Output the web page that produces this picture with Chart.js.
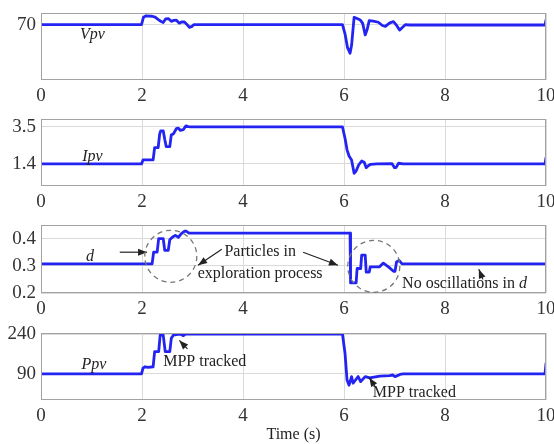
<!DOCTYPE html>
<html lang="en">
<head>
<meta charset="UTF-8">
<title>PV tracking response</title>
<script src="https://cdn.jsdelivr.net/npm/chart.js"></script>
<style>
  body { margin: 0; width: 554px; height: 444px; overflow: hidden; background: #fff; position: relative; }
  .panel { position: absolute; left: 0; width: 580px; }
</style>
</head>
<body>
<div class="panel" style="top:3px;height:105px"><canvas id="vpvChart"></canvas></div>
<div class="panel" style="top:109px;height:105px"><canvas id="ipvChart"></canvas></div>
<div class="panel" style="top:215px;height:106px"><canvas id="dChart"></canvas></div>
<div class="panel" style="top:323px;height:121px"><canvas id="ppvChart"></canvas></div>

<script>
// time axis
const xTicks = [0, 2, 4, 6, 8, 10];

// Vpv
const vpvTime = [0, 1.99, 2.03, 2.08, 2.2, 2.26, 2.33, 2.38, 2.42, 2.47, 2.52, 2.58, 2.63, 2.68, 2.74, 2.79, 2.84, 2.9, 2.94, 2.99, 3.03,
                 5.97, 6.02, 6.07, 6.12, 6.15, 6.2, 6.26, 6.32, 6.37, 6.42, 6.46, 6.5, 6.58, 6.68, 6.76, 6.82, 6.9, 6.98, 7.03, 7.1, 7.16, 7.22, 7.3, 9.98, 10];
const vpvValues = [70, 70, 73.2, 73.8, 73.6, 73.2, 72.0, 71.3, 70.9, 72.5, 72.6, 71.4, 71.8, 71.9, 70.6, 71.2, 71.1, 69.8, 68.8, 69.2, 70,
                   70, 66, 60, 57.6, 61, 73.1, 72.6, 72, 70.5, 65.5, 68, 71.7, 71.5, 71, 69.6, 69.2, 70.6, 71.3, 70, 67.6, 68.8, 70, 69.8, 69.8, 72];
const vpvTicks = [70];

// Ipv
const ipvTime = [0, 1.99, 2.02, 2.22, 2.25, 2.32, 2.35, 2.37, 2.42, 2.45, 2.48, 2.55, 2.58, 2.62, 2.68, 2.72, 2.76, 2.82, 2.87, 2.92, 2.96,
                 5.97, 6.02, 6.06, 6.1, 6.15, 6.2, 6.24, 6.29, 6.35, 6.4, 6.44, 6.48, 6.53, 6.65, 6.95, 7.0, 7.03, 7.08, 7.17, 9.98, 10];
const ipvValues = [1.4, 1.4, 1.63, 1.63, 2.33, 2.33, 3.1, 3.28, 3.28, 2.8, 2.38, 2.38, 3.05, 3.1, 3.4, 3.43, 3.3, 3.35, 3.56, 3.52, 3.5,
                   3.5, 2.86, 2.2, 1.85, 1.63, 0.87, 1.0, 1.34, 1.57, 1.5, 1.19, 1.3, 1.38, 1.4, 1.42, 1.19, 1.19, 1.44, 1.4, 1.4, 1.76];
const ipvTicks = [1.4, 3.5];

// duty cycle d
const dTime = [0, 2.2, 2.23, 2.3, 2.33, 2.42, 2.45, 2.52, 2.55, 2.6, 2.66, 2.72, 2.78, 2.84, 2.88, 2.93,
               6.12, 6.13, 6.24, 6.26, 6.33, 6.35, 6.42, 6.44, 6.5, 6.52, 6.7, 6.78, 6.88, 6.98, 7.01, 7.04, 7.09, 7.15, 10];
const dValues = [0.307, 0.307, 0.35, 0.35, 0.40, 0.40, 0.357, 0.357, 0.396, 0.405, 0.412, 0.405, 0.418, 0.427, 0.427, 0.42,
                 0.42, 0.237, 0.237, 0.29, 0.29, 0.339, 0.339, 0.277, 0.277, 0.296, 0.296, 0.31, 0.296, 0.28, 0.28, 0.314, 0.32, 0.307, 0.307];
const dTicks = [0.2, 0.3, 0.4];

// Ppv
const ppvTime = [0, 1.99, 2.02, 2.06, 2.12, 2.22, 2.25, 2.33, 2.36, 2.42, 2.46, 2.55, 2.58, 2.62, 2.68, 2.75, 2.82, 2.86, 2.92,
                 5.97, 6.02, 6.06, 6.1, 6.15, 6.18, 6.24, 6.28, 6.33, 6.42, 6.51, 6.71, 6.9, 6.97, 7.01, 7.11, 7.17, 9.98, 10];
const ppvValues = [90, 90, 112, 117, 115, 117, 174, 174, 236, 236, 174, 174, 224, 236, 238, 240, 234, 240, 240,
                   240, 168, 67, 48, 80, 55, 70, 80, 61, 80, 75, 82, 84, 86, 80, 88, 90, 90, 130];
const ppvTicks = [90, 240];

const SERIF = '"Liberation Serif", "DejaVu Serif", serif';
const LINE_BLUE = '#2424f2';

// annotations in data units
const vpvNotes = [{ text: 'Vpv', italic: true, x: 1.02, y: 65.5 }];
const ipvNotes = [{ text: 'Ipv', italic: true, x: 1.02, y: 1.8 }];
const dNotes = [
    { text: 'd', italic: true, x: 0.97, y: 0.332 },
    { arrow: [1.56, 0.35, 2.1, 0.35] },
    { ring: [2.57, 0.335] },
    { ring: [6.59, 0.298] },
    { text: 'Particles in', x: 4.34, y: 0.35, align: 'center' },
    { text: 'exploration process', x: 4.34, y: 0.272, align: 'center' },
    { arrow: [3.58, 0.361, 3.11, 0.302] },
    { arrow: [5.19, 0.35, 5.88, 0.302] },
    { text: 'No oscillations in ', tail: 'd', x: 7.15, y: 0.232 },
    { arrow: [8.75, 0.25, 8.67, 0.287] }
];
const ppvNotes = [
    { text: 'Ppv', italic: true, x: 1.05, y: 124 },
    { text: 'MPP tracked', x: 2.42, y: 135 },
    { arrow: [2.9, 184, 2.74, 216] },
    { text: 'MPP tracked', x: 6.57, y: 18 },
    { arrow: [6.62, 41, 6.5, 76] }
];

function drawArrow(ctx, x1, y1, x2, y2) {
    ctx.beginPath();
    ctx.moveTo(x1, y1);
    ctx.lineTo(x2, y2);
    ctx.stroke();
    let a = Math.atan2(y2 - y1, x2 - x1);
    ctx.beginPath();
    ctx.moveTo(x2, y2);
    ctx.lineTo(x2 - 9 * Math.cos(a) + 3.5 * Math.sin(a), y2 - 9 * Math.sin(a) - 3.5 * Math.cos(a));
    ctx.lineTo(x2 - 9 * Math.cos(a) - 3.5 * Math.sin(a), y2 - 9 * Math.sin(a) + 3.5 * Math.cos(a));
    ctx.closePath();
    ctx.fill();
}

const notesPlugin = {
    id: 'notes',
    afterDraw(chart) {
        let { ctx, chartArea: a, scales: { x, y } } = chart;
        ctx.save();
        // plot frame
        ctx.strokeStyle = '#a2a2a2';
        ctx.lineWidth = 1;
        ctx.strokeRect(a.left + 0.5, a.top + 0.5, a.right - a.left - 1, a.bottom - a.top - 1);

        let list = chart.options.plugins.notes.list || [];
        ctx.fillStyle = '#222';
        ctx.strokeStyle = '#222';
        ctx.textBaseline = 'middle';
        list.forEach(n => {
            if (n.text) {
                ctx.font = (n.italic ? 'italic ' : '') + '16px ' + SERIF;
                ctx.textAlign = n.align || (n.italic ? 'center' : 'left');
                let px = x.getPixelForValue(n.x), py = y.getPixelForValue(n.y);
                ctx.fillText(n.text, px, py);
                if (n.tail) {
                    let w = ctx.measureText(n.text).width;
                    ctx.font = 'italic 16px ' + SERIF;
                    ctx.fillText(n.tail, px + w, py);
                }
            } else if (n.arrow) {
                ctx.lineWidth = 1.2;
                let [x1, y1, x2, y2] = n.arrow;
                drawArrow(ctx, x.getPixelForValue(x1), y.getPixelForValue(y1), x.getPixelForValue(x2), y.getPixelForValue(y2));
            } else if (n.ring) {
                ctx.save();
                ctx.strokeStyle = '#777';
                ctx.lineWidth = 1.3;
                ctx.setLineDash([5, 4]);
                ctx.beginPath();
                ctx.arc(x.getPixelForValue(n.ring[0]), y.getPixelForValue(n.ring[1]), 26, 0, Math.PI * 2);
                ctx.stroke();
                ctx.restore();
            }
        });
        ctx.restore();
    }
};

function makePanel(id, time, values, yMin, yMax, yTicks, notes, xTitle) {
    let ctx = document.getElementById(id).getContext('2d');
    let points = time.map((t, i) => ({ x: t, y: values[i] }));
    return new Chart(ctx, {
        type: 'line',
        data: {
            datasets: [{
                data: points,
                borderColor: LINE_BLUE,
                borderWidth: 2.8,
                borderJoinStyle: 'round',
                borderCapStyle: 'round',
                pointRadius: 0,
                tension: 0,
                fill: false
            }]
        },
        options: {
            responsive: true,
            maintainAspectRatio: false,
            animation: false,
            layout: { padding: { top: 10, right: 34, left: 0, bottom: 0 } },
            plugins: {
                legend: { display: false },
                tooltip: { enabled: false },
                notes: { list: notes }
            },
            scales: {
                x: {
                    type: 'linear',
                    min: 0,
                    max: 10,
                    afterBuildTicks: s => { s.ticks = xTicks.map(v => ({ value: v })); },
                    afterFit: s => { s.height = xTitle ? 44 : 28; s.paddingLeft = 0; s.paddingRight = 0; },
                    grid: { color: '#dadada', drawTicks: false },
                    border: { display: false },
                    ticks: { padding: 5, color: '#333', font: { family: SERIF, size: 19 }, callback: v => String(v) },
                    title: {
                        display: !!xTitle,
                        text: xTitle,
                        color: '#222',
                        padding: { top: 0, bottom: 0 },
                        font: { family: SERIF, size: 16 }
                    }
                },
                y: {
                    min: yMin,
                    max: yMax,
                    afterBuildTicks: s => { s.ticks = yTicks.map(v => ({ value: v })); },
                    afterFit: s => { s.width = 41; s.paddingTop = 0; s.paddingBottom = 0; },
                    grid: { color: '#dadada', drawTicks: false },
                    border: { display: false },
                    ticks: { padding: 5, color: '#333', font: { family: SERIF, size: 19 }, callback: v => String(v) }
                }
            }
        },
        plugins: [notesPlugin]
    });
}

makePanel('vpvChart', vpvTime, vpvValues, 46, 75, vpvTicks, vpvNotes);
makePanel('ipvChart', ipvTime, ipvValues, 0.15, 3.95, ipvTicks, ipvNotes);
makePanel('dChart', dTime, dValues, 0.2, 0.45, dTicks, dNotes);
makePanel('ppvChart', ppvTime, ppvValues, -8, 244, ppvTicks, ppvNotes, 'Time (s)');
</script>
</body>
</html>
